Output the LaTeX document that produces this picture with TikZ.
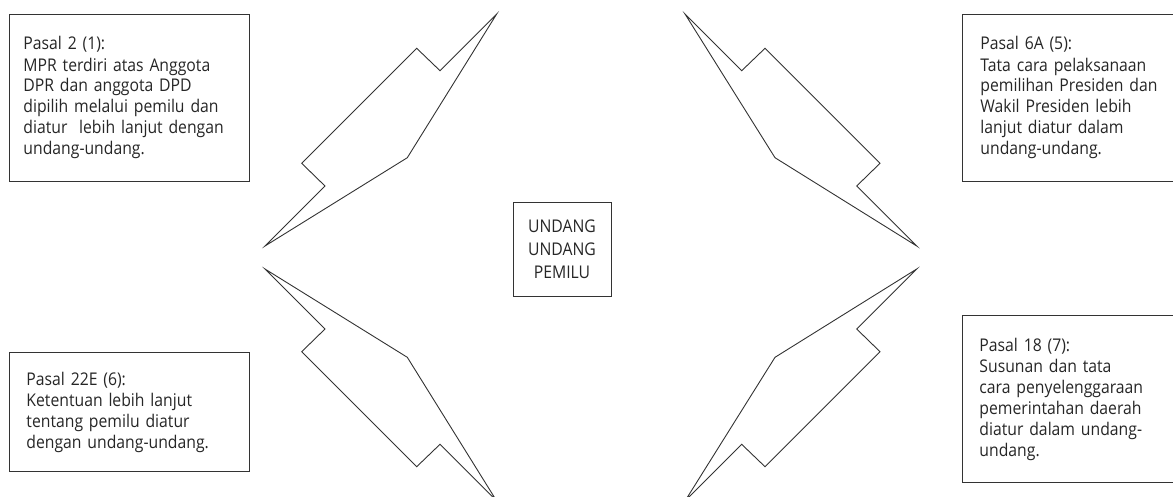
\documentclass[tikz,border=0pt]{standalone}
\usepackage{fontspec}
\setmainfont[FakeStretch=0.9]{Open Sans}
\begin{document}
\begin{tikzpicture}[x=1pt,y=-1pt,
  ink/.style={draw=black!80, line width=0.9pt},
  infobox/.style={ink, anchor=north west, align=left, inner ysep=0pt,
    minimum width=240pt, font=\fontsize{17.5}{21}\selectfont, text=black!85},
  bolt/.style={ink, line join=miter}]
\useasboundingbox (0,0) rectangle (1173,496);
\clip (0,0) rectangle (1173,496);

% boxes
\node[infobox, inner xsep=14pt, text width=212pt, minimum height=167pt] (b1) at (9,14)
  {Pasal 2 (1):\\MPR terdiri atas Anggota\\DPR dan anggota DPD\\dipilih melalui pemilu dan\\diatur\ \ lebih lanjut dengan\\undang-undang.};

\node[infobox, inner xsep=18pt, text width=204pt, minimum height=167pt] (b2) at (962,14)
  {Pasal 6A (5):\\Tata cara pelaksanaan\\pemilihan Presiden dan\\Wakil Presiden lebih\\lanjut diatur dalam\\undang-undang.};

\node[infobox, inner xsep=17pt, text width=206pt, minimum height=119pt] (b3) at (9,352)
  {Pasal 22E (6):\\Ketentuan lebih lanjut\\tentang pemilu diatur\\dengan undang-undang.};

\node[infobox, inner xsep=17pt, text width=206pt, minimum height=167pt] (b4) at (962,315)
  {Pasal 18 (7):\\Susunan dan tata\\cara penyelenggaraan\\pemerintahan daerah\\diatur dalam undang-\\undang.};

\node[ink, minimum width=98pt, minimum height=94pt, inner sep=0pt, align=center,
  font=\fontsize{17.5}{23}\selectfont, text=black!85] (c) at (562,249) {UNDANG\\UNDANG\\PEMILU};

% lightning bolts
\draw[bolt] (496.7,14) -- (440,70.7) -- (416.7,48.3) -- (301.7,163.3) -- (325,186) -- (265,246) -- (407.3,157.7) -- cycle;
\draw[bolt] (685,14) -- (741.7,70.7) -- (765,48.3) -- (880,163.3) -- (856.7,186) -- (916.7,246) -- (775,157.7) -- cycle;
\draw[bolt] (496.7,501) -- (440,444.3) -- (416.7,466.7) -- (301.7,351.7) -- (325,329) -- (265,269) -- (407.3,357.3) -- cycle;
\draw[bolt] (685,501) -- (741.7,444.3) -- (765,466.7) -- (880,351.7) -- (856.7,329) -- (916.7,269) -- (775,357.3) -- cycle;
\end{tikzpicture}
\end{document}
